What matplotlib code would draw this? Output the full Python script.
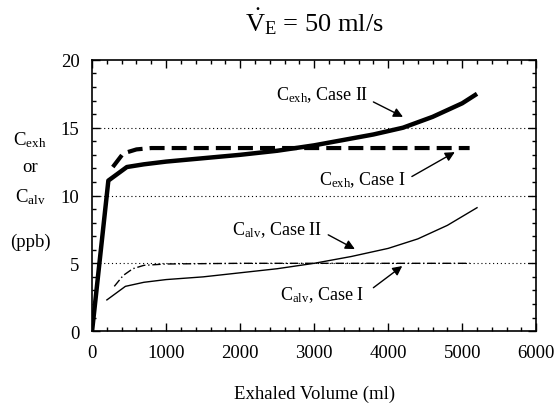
import matplotlib
matplotlib.use('Agg')
import matplotlib.pyplot as plt
from matplotlib.ticker import MultipleLocator

plt.rcParams['font.family'] = 'Liberation Serif'
plt.rcParams['mathtext.fontset'] = 'custom'
plt.rcParams['mathtext.rm'] = 'Liberation Serif'
plt.rcParams['mathtext.it'] = 'Liberation Serif:italic'

# exhaled volume (ml) vs concentration (ppb)
vol_exh2 = [0, 220, 470, 700, 1000, 1500, 2000, 2500, 3000, 3500, 3800, 4200, 4600, 5000, 5200]
c_exh2 = [0, 11.1, 12.1, 12.3, 12.5, 12.75, 13.0, 13.3, 13.7, 14.2, 14.5, 15.0, 15.8, 16.8, 17.5]

vol_exh1 = [280, 420, 600, 800, 1200, 2000, 3000, 4000, 5100]
c_exh1 = [12.1, 13.1, 13.4, 13.5, 13.5, 13.5, 13.5, 13.5, 13.5]

vol_alv2 = [200, 450, 700, 1000, 1500, 2000, 2500, 3000, 3500, 4000, 4400, 4800, 5200]
c_alv2 = [2.3, 3.3, 3.6, 3.8, 4.0, 4.3, 4.6, 5.0, 5.5, 6.1, 6.8, 7.8, 9.1]

vol_alv1 = [300, 420, 550, 700, 1000, 2000, 3000, 4000, 5100]
c_alv1 = [3.3, 4.1, 4.6, 4.85, 4.95, 5.0, 5.0, 5.0, 5.0]

fig = plt.figure(figsize=(5.58, 4.06), dpi=100)
ax = fig.add_axes([0.165, 0.182, 0.796, 0.668])

for yg in [5, 10, 15]:
    ax.axhline(yg, color='black', lw=0.8, ls=(0, (1, 2.5)), zorder=1)

ax.plot(vol_exh2, c_exh2, color='black', lw=3.2, solid_capstyle='butt', zorder=3)
ax.plot(vol_exh1, c_exh1, color='black', lw=3.0, dashes=[3.6, 1.7], zorder=3)
ax.plot(vol_alv2, c_alv2, color='black', lw=1.0, zorder=3)
ax.plot(vol_alv1, c_alv1, color='black', lw=1.0, dashes=[6, 2, 1, 2], zorder=3)

ax.set_xlim(0, 6000)
ax.set_ylim(0, 20)
ax.xaxis.set_major_locator(MultipleLocator(1000))
ax.xaxis.set_minor_locator(MultipleLocator(200))
ax.yaxis.set_major_locator(MultipleLocator(5))
ax.yaxis.set_minor_locator(MultipleLocator(1))
ax.tick_params(which='both', direction='in', top=True, right=True, labelsize=13.5, width=1)
ax.tick_params(which='major', length=6, pad=9)
ax.tick_params(which='minor', length=3)
for s in ax.spines.values():
    s.set_linewidth(1.2)

ax.set_xlabel('Exhaled Volume (ml)', fontsize=13.5, labelpad=17)

fig.text(0.563, 0.946, r'$\dot{\mathrm{V}}_{\mathrm{E}}$ = 50 ml/s', fontsize=19,
         ha='center', va='center')

fig.text(0.054, 1 - 140 / 406, r'C$_{\mathrm{exh}}$', fontsize=13.5, ha='center', va='center')
fig.text(0.054, 1 - 168 / 406, 'or', fontsize=13.5, ha='center', va='center')
fig.text(0.054, 1 - 197 / 406, r'C$_{\mathrm{alv}}$', fontsize=13.5, ha='center', va='center')
fig.text(0.054, 1 - 242 / 406, '(ppb)', fontsize=13.5, ha='center', va='center')

# labels and arrows
labels = [r'C$_{\mathrm{exh}}$, Case II', r'C$_{\mathrm{exh}}$, Case I',
          r'C$_{\mathrm{alv}}$, Case II', r'C$_{\mathrm{alv}}$, Case I']
label_pos = [(3110, 17.5), (3650, 11.2), (2490, 7.5), (3110, 2.7)]
arrow_tail = [(3800, 16.9), (4320, 11.4), (3190, 7.1), (3800, 3.2)]
arrow_head = [(4200, 15.8), (4900, 13.2), (3550, 6.05), (4190, 4.8)]

for lab, p, t, h in zip(labels, label_pos, arrow_tail, arrow_head):
    ax.text(p[0], p[1], lab, fontsize=13, ha='center', va='center')
    ax.annotate('', xy=h, xytext=t,
                arrowprops=dict(arrowstyle='-|>', color='black', lw=1.0,
                                mutation_scale=14, shrinkA=0, shrinkB=0))

fig.savefig('out.png', dpi=100)
